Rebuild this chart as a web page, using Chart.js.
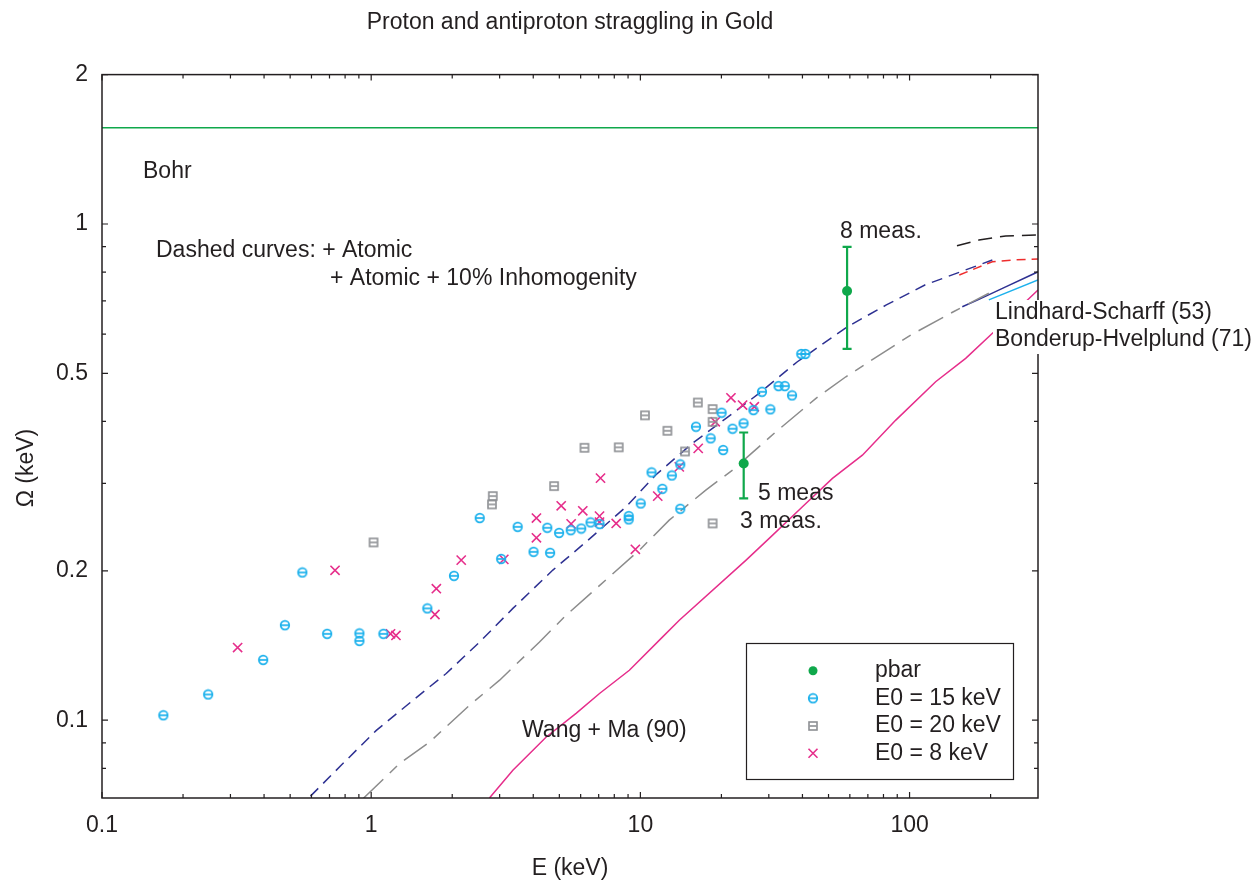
<!DOCTYPE html>
<html>
<head>
<meta charset="utf-8">
<script src="https://cdn.jsdelivr.net/npm/chart.js@4.4.1/dist/chart.umd.min.js"></script>
<style>
  html, body { margin: 0; padding: 0; background: #fff; }
  #wrap { width: 1253px; height: 882px; position: relative; }
</style>
</head>
<body>
<div id="wrap"><canvas id="chart"></canvas></div>
<script>
// === Daten ===
const TITLE = "Proton and antiproton straggling in Gold";
const seriesLabels = ["pbar", "E0 = 15 keV", "E0 = 20 keV", "E0 = 8 keV"];

// Achsen-Ticks
const xTickValues = [0.1, 0.2, 0.3, 0.4, 0.5, 0.6, 0.7, 0.8, 0.9,
  1, 2, 3, 4, 5, 6, 7, 8, 9, 10, 20, 30, 40, 50, 60, 70, 80, 90, 100, 200];
const xLabelled = [0.1, 1, 10, 100];
const yTickValues = [0.08, 0.09, 0.1, 0.2, 0.3, 0.4, 0.5, 0.6, 0.7, 0.8, 0.9, 1, 2];
const yLabelled = [0.1, 0.2, 0.5, 1, 2];

// pbar mit Fehlerbalken
const pbarE = [24.2, 58.6];
const pbarOmega = [0.329, 0.733];
const pbarLow = [0.280, 0.560];
const pbarHigh = [0.380, 0.899];

// E0 = 15 keV
const e15E = [0.169, 0.248, 0.397, 0.478, 0.555, 0.686, 0.904, 0.904, 1.11, 1.617, 2.03, 2.53,
  3.04, 3.50, 4.01, 4.51, 4.62, 4.99, 5.51, 6.03, 6.53, 7.05, 9.05, 9.05, 10.03, 11.0, 12.07,
  13.09, 14.07, 14.07, 16.09, 18.24, 20.03, 20.3, 22.0, 24.17, 26.3, 28.3, 30.4, 32.6, 34.4,
  36.6, 39.6, 41.0];
const e15Omega = [0.1023, 0.1127, 0.1323, 0.1554, 0.1985, 0.1493, 0.1496, 0.1445, 0.1493, 0.168,
  0.1954, 0.2555, 0.2114, 0.2453, 0.2184, 0.2442, 0.2174, 0.2385, 0.2415, 0.2434, 0.2504, 0.2484,
  0.2578, 0.2539, 0.2734, 0.3158, 0.2926, 0.3113, 0.3277, 0.2667, 0.3903, 0.3698, 0.4165, 0.3503,
  0.3867, 0.3965, 0.4217, 0.459, 0.4231, 0.4713, 0.4713, 0.4514, 0.547, 0.547];

// E0 = 20 keV
const e20E = [1.02, 2.83, 2.81, 4.78, 6.20, 8.31, 10.4, 12.6, 14.65, 16.35, 18.55, 18.55, 18.55];
const e20Omega = [0.2282, 0.2829, 0.2722, 0.2963, 0.354, 0.3547, 0.4115, 0.3831, 0.348, 0.4367,
  0.4236, 0.3993, 0.2492];

// E0 = 8 keV
const e8E = [0.319, 0.734, 1.18, 1.236, 1.746, 1.725, 2.16, 3.11, 4.11, 4.11, 5.08, 5.53, 6.11,
  7.11, 7.05, 7.05, 8.13, 9.58, 11.6, 13.95, 16.4, 18.98, 21.7, 23.97, 26.5];
const e8Omega = [0.1401, 0.2005, 0.1493, 0.1482, 0.1841, 0.1633, 0.2102, 0.2109, 0.2555, 0.2331,
  0.2704, 0.2487, 0.2642, 0.3075, 0.2578, 0.2507, 0.2492, 0.221, 0.2829, 0.324, 0.353, 0.3993,
  0.4464, 0.4316, 0.4282];

// Kurven
const bohrE = [0.1, 300];
const bohrOmega = [1.562, 1.562];

const atomicE = [0.595, 0.775, 1.045, 1.43, 1.90, 2.53, 3.36, 4.73, 6.29, 8.85, 11.4, 15.6, 20.8,
  27.6, 38.3, 58.8, 82.0, 114, 155, 203];
const atomicOmega = [0.0703, 0.0812, 0.0954, 0.1097, 0.1242, 0.1438, 0.168, 0.2007, 0.2288, 0.2692,
  0.312, 0.3613, 0.4058, 0.4557, 0.5277, 0.6209, 0.6868, 0.7535, 0.8013, 0.8461];

const atomicRedE = [153, 176, 203, 241, 300];
const atomicRedOmega = [0.789, 0.814, 0.8395, 0.846, 0.85];

const atomicBlackE = [150, 181, 227.5, 300];
const atomicBlackOmega = [0.904, 0.928, 0.946, 0.950];

const inhomE = [0.933, 1.276, 1.649, 2.32, 3.00, 4.22, 5.30, 7.67, 9.92, 12.8, 17.5, 22.0, 31.9,
  44.9, 58.0, 101, 145.5, 197];
const inhomOmega = [0.0695, 0.0818, 0.0904, 0.1072, 0.1204, 0.1438, 0.1628, 0.1945, 0.2202, 0.2530,
  0.2909, 0.3192, 0.3813, 0.4452, 0.4922, 0.5974, 0.6655, 0.725];

const lindhardE = [157, 181, 227.5, 300];
const lindhardOmega = [0.681, 0.705, 0.747, 0.801];

const bonderupE = [197, 300];
const bonderupOmega = [0.703, 0.771];

const wangMaE = [2.75, 3.36, 4.47, 5.77, 7.05, 9.10, 12.1, 13.95, 24.7, 31.0, 40.0, 51.7, 66.8,
  88.9, 125, 161.6, 206, 300];
const wangMaOmega = [0.0697, 0.0793, 0.0925, 0.1032, 0.1132, 0.1261, 0.1472, 0.159, 0.2102, 0.236,
  0.2692, 0.3071, 0.342, 0.4025, 0.481, 0.5361, 0.6066, 0.736];

// === Stil ===
const FONT = "'Liberation Sans', Arial, sans-serif";
const FS = 23;
const TXT = "#231f20";
const GREEN = "#0fa84b";
const CYAN = "#1cb1ec";
const GREY_PT = "#8d8f93";
const MAGENTA = "#e62e8b";
const NAVY = "#2e3192";
const GREY_LN = "#8c8c8c";
const RED = "#ee2d2d";

const annotations = [
  { text: "Bohr", x: 143, y: 172 },
  { text: "Dashed curves: + Atomic", x: 156, y: 251 },
  { text: "+ Atomic + 10% Inhomogenity", x: 330, y: 279 },
  { text: "8 meas.", x: 840, y: 232 },
  { text: "5 meas", x: 758, y: 494 },
  { text: "3 meas.", x: 740, y: 522 },
  { text: "Wang + Ma (90)", x: 522, y: 731 },
];

const toPts = (xs, ys) => xs.map((x, i) => ({ x, y: ys[i] }));

// Symbole: Kreis bzw. Quadrat mit Querstrich
function circleBar(color) {
  const c = document.createElement("canvas");
  c.width = 12; c.height = 12;
  const g = c.getContext("2d");
  g.strokeStyle = color; g.lineWidth = 1.7;
  g.beginPath(); g.arc(6, 6, 4.3, 0, Math.PI * 2); g.stroke();
  g.beginPath(); g.moveTo(2, 6); g.lineTo(10, 6); g.stroke();
  return c;
}
function squareBar(color) {
  const c = document.createElement("canvas");
  c.width = 12; c.height = 12;
  const g = c.getContext("2d");
  g.strokeStyle = color; g.lineWidth = 1.6;
  g.strokeRect(2, 2, 8, 8);
  g.beginPath(); g.moveTo(2.5, 6); g.lineTo(9.5, 6); g.stroke();
  return c;
}
const cyanSym = circleBar(CYAN);
const greySym = squareBar(GREY_PT);

function curve(label, xs, ys, color, dash) {
  return {
    label, data: toPts(xs, ys), showLine: true, borderColor: color, borderWidth: 1.5,
    borderDash: dash, pointRadius: 0, fill: false, tension: 0,
  };
}

const datasets = [
  { label: seriesLabels[0], data: toPts(pbarE, pbarOmega), pointStyle: "circle", pointRadius: 5,
    backgroundColor: GREEN, borderColor: GREEN, borderWidth: 0 },
  { label: seriesLabels[1], data: toPts(e15E, e15Omega), pointStyle: cyanSym, pointRadius: 5 },
  { label: seriesLabels[2], data: toPts(e20E, e20Omega), pointStyle: greySym, pointRadius: 5 },
  { label: seriesLabels[3], data: toPts(e8E, e8Omega), pointStyle: "crossRot", pointRadius: 6.5,
    borderColor: MAGENTA, borderWidth: 1.6 },
  curve("Bohr", bohrE, bohrOmega, GREEN, []),
  curve("Atomic", atomicE, atomicOmega, NAVY, [11, 7]),
  curve("Atomic red", atomicRedE, atomicRedOmega, RED, [9, 6]),
  curve("Atomic black", atomicBlackE, atomicBlackOmega, TXT, [14, 8]),
  curve("Inhomogenity", inhomE, inhomOmega, GREY_LN, [28, 9, 10, 9]),
  curve("Lindhard-Scharff", lindhardE, lindhardOmega, NAVY, []),
  curve("Bonderup-Hvelplund", bonderupE, bonderupOmega, CYAN, []),
  curve("Wang + Ma", wangMaE, wangMaOmega, MAGENTA, []),
];

// === Plugin: Rahmen, Ticks nach innen, Fehlerbalken, Texte, Legende ===
const framePlugin = {
  id: "frame",
  afterDatasetsDraw(chart) {
    const { ctx, scales: { x, y } } = chart;
    ctx.save();
    ctx.strokeStyle = GREEN;
    ctx.lineWidth = 2.2;
    pbarE.forEach((e, i) => {
      const px = x.getPixelForValue(e);
      const y1 = y.getPixelForValue(pbarLow[i]);
      const y2 = y.getPixelForValue(pbarHigh[i]);
      ctx.beginPath();
      ctx.moveTo(px, y1); ctx.lineTo(px, y2);
      ctx.moveTo(px - 4.5, y1); ctx.lineTo(px + 4.5, y1);
      ctx.moveTo(px - 4.5, y2); ctx.lineTo(px + 4.5, y2);
      ctx.stroke();
    });
    ctx.restore();
  },
  afterDraw(chart) {
    const { ctx, chartArea: a, scales: { x, y } } = chart;
    ctx.save();
    ctx.strokeStyle = TXT;
    ctx.lineWidth = 1.5;
    ctx.strokeRect(a.left, a.top, a.right - a.left, a.bottom - a.top);

    ctx.lineWidth = 1.2;
    ctx.beginPath();
    xTickValues.forEach((v) => {
      const px = x.getPixelForValue(v);
      const len = xLabelled.includes(v) ? 6 : 4;
      ctx.moveTo(px, a.bottom); ctx.lineTo(px, a.bottom - len);
      ctx.moveTo(px, a.top); ctx.lineTo(px, a.top + len);
    });
    yTickValues.forEach((v) => {
      const py = y.getPixelForValue(v);
      const len = yLabelled.includes(v) ? 6 : 4;
      ctx.moveTo(a.left, py); ctx.lineTo(a.left + len, py);
      ctx.moveTo(a.right, py); ctx.lineTo(a.right - len, py);
    });
    ctx.stroke();

    ctx.fillStyle = TXT;
    ctx.font = `${FS}px ${FONT}`;
    ctx.textBaseline = "middle";
    ctx.textAlign = "left";
    annotations.forEach((t) => ctx.fillText(t.text, t.x, t.y));

    // Y-Achsentitel (etwas unter der Mitte wie im Original)
    ctx.save();
    ctx.translate(27, 468);
    ctx.rotate(-Math.PI / 2);
    ctx.textAlign = "center";
    ctx.fillText("Ω (keV)", 0, 0);
    ctx.restore();

    // Beschriftung rechts mit weissem Hintergrund
    ctx.fillStyle = "#fff";
    ctx.fillRect(993, 300, 258, 54);
    ctx.fillStyle = TXT;
    ctx.fillText("Lindhard-Scharff (53)", 995, 313);
    ctx.fillText("Bonderup-Hvelplund (71)", 995, 340);

    // Legende
    ctx.strokeStyle = TXT;
    ctx.lineWidth = 1.2;
    ctx.strokeRect(746.5, 643.5, 267, 136);
    const rows = [670.7, 698.3, 726, 753.3];
    const sx = 813;
    rows.forEach((ry, i) => {
      if (i === 0) {
        ctx.fillStyle = GREEN;
        ctx.beginPath(); ctx.arc(sx, ry, 4.5, 0, Math.PI * 2); ctx.fill();
      } else if (i === 1) {
        ctx.drawImage(cyanSym, sx - 6, ry - 6);
      } else if (i === 2) {
        ctx.drawImage(greySym, sx - 6, ry - 6);
      } else {
        ctx.strokeStyle = MAGENTA; ctx.lineWidth = 1.6;
        const r = 4.5;
        ctx.beginPath();
        ctx.moveTo(sx - r, ry - r); ctx.lineTo(sx + r, ry + r);
        ctx.moveTo(sx - r, ry + r); ctx.lineTo(sx + r, ry - r);
        ctx.stroke();
      }
      ctx.fillStyle = TXT;
      ctx.fillText(seriesLabels[i], 875, ry);
    });
    ctx.restore();
  },
};

const tickFont = { family: FONT, size: FS };

// === Chart ===
new Chart(document.getElementById("chart"), {
  type: "scatter",
  data: { datasets },
  options: {
    responsive: true,
    maintainAspectRatio: false,
    animation: false,
    events: [],
    layout: { padding: { left: 0, right: 215, top: 0, bottom: 0 } },
    plugins: {
      legend: { display: false },
      tooltip: { enabled: false },
      title: {
        display: true, text: TITLE, fullSize: false, color: TXT,
        font: { family: FONT, size: FS, weight: "normal" },
        padding: { top: 9, bottom: 38 },
      },
    },
    scales: {
      x: {
        type: "logarithmic", min: 0.1, max: 300,
        afterFit: (s) => { s.height = 84; },
        afterBuildTicks: (s) => { s.ticks = xTickValues.map((v) => ({ value: v })); },
        grid: { display: false, drawTicks: false },
        border: { display: false },
        ticks: {
          autoSkip: false, maxRotation: 0, padding: 14, color: TXT, font: tickFont,
          callback: (v) => (xLabelled.includes(v) ? String(v) : ""),
        },
        title: { display: true, text: "E (keV)", color: TXT, font: tickFont, padding: 0 },
      },
      y: {
        type: "logarithmic", min: 0.0697, max: 2,
        afterFit: (s) => { s.width = 102; },
        afterBuildTicks: (s) => { s.ticks = yTickValues.map((v) => ({ value: v })); },
        grid: { display: false, drawTicks: false },
        border: { display: false },
        ticks: {
          autoSkip: false, padding: 14, color: TXT, font: tickFont,
          callback: (v) => (yLabelled.includes(v) ? String(v) : ""),
        },
      },
    },
  },
  plugins: [framePlugin],
});
</script>
</body>
</html>
